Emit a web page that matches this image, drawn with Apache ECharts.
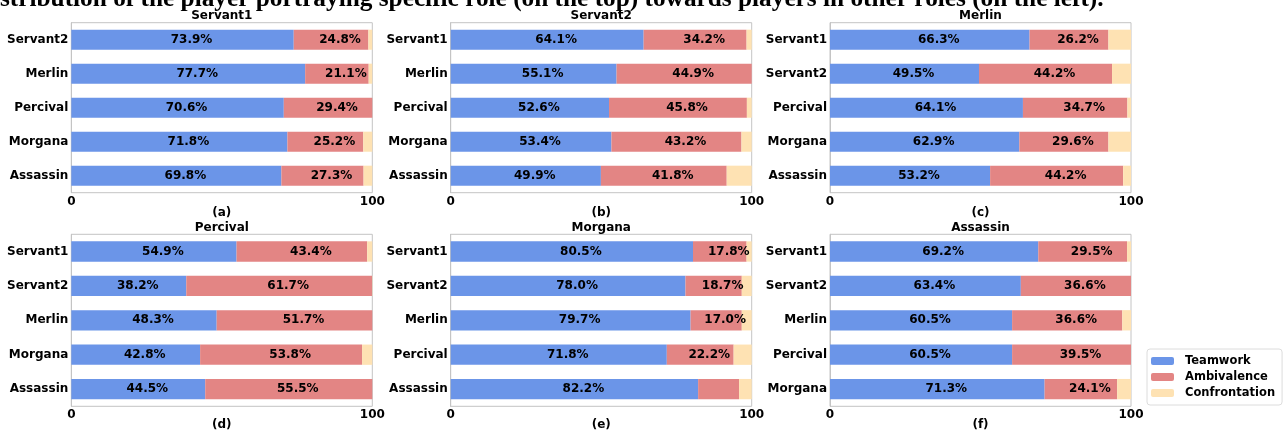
<!DOCTYPE html>
<html>
<head>
<meta charset="utf-8">
<script src="https://cdn.jsdelivr.net/npm/echarts@6/dist/echarts.min.js"></script>
<style>html,body{margin:0;padding:0;background:#fff;}#c{width:1285px;height:434px;}</style>
</head>
<body>
<div id="c"></div>
<script>
const mainTitle = "stribution of the player portraying specific role (on the top) towards players in other roles (on the left).";
const panelTitles = ["Servant1", "Servant2", "Merlin", "Percival", "Morgana", "Assassin"];
const panelTags = ["(a)", "(b)", "(c)", "(d)", "(e)", "(f)"];
const seriesNames = ["Teamwork", "Ambivalence", "Confrontation"];
const xTicks = [0, 100];

const catsA = ["Servant2", "Merlin", "Percival", "Morgana", "Assassin"];
const teamA = [73.9, 77.7, 70.6, 71.8, 69.8];
const ambA  = [24.8, 21.1, 29.4, 25.2, 27.3];
const confA = [1.3, 1.2, 0.0, 3.0, 2.9];

const catsB = ["Servant1", "Merlin", "Percival", "Morgana", "Assassin"];
const teamB = [64.1, 55.1, 52.6, 53.4, 49.9];
const ambB  = [34.2, 44.9, 45.8, 43.2, 41.8];
const confB = [1.7, 0.0, 1.6, 3.4, 8.3];

const catsC = ["Servant1", "Servant2", "Percival", "Morgana", "Assassin"];
const teamC = [66.3, 49.5, 64.1, 62.9, 53.2];
const ambC  = [26.2, 44.2, 34.7, 29.6, 44.2];
const confC = [7.5, 6.3, 1.2, 7.5, 2.6];

const catsD = ["Servant1", "Servant2", "Merlin", "Morgana", "Assassin"];
const teamD = [54.9, 38.2, 48.3, 42.8, 44.5];
const ambD  = [43.4, 61.7, 51.7, 53.8, 55.5];
const confD = [1.7, 0.1, 0.0, 3.4, 0.0];

const catsE = ["Servant1", "Servant2", "Merlin", "Percival", "Assassin"];
const teamE = [80.5, 78.0, 79.7, 71.8, 82.2];
const ambE  = [17.8, 18.7, 17.0, 22.2, 13.6];
const confE = [1.7, 3.3, 3.3, 6.0, 4.2];

const catsF = ["Servant1", "Servant2", "Merlin", "Percival", "Morgana"];
const teamF = [69.2, 63.4, 60.5, 60.5, 71.3];
const ambF  = [29.5, 36.6, 36.6, 39.5, 24.1];
const confF = [1.3, 0.0, 2.9, 0.0, 4.6];

const panels = [
  [catsA, teamA, ambA, confA], [catsB, teamB, ambB, confB], [catsC, teamC, ambC, confC],
  [catsD, teamD, ambD, confD], [catsE, teamE, ambE, confE], [catsF, teamF, ambF, confF]
];
const colors = ["#6b95e8", "#e38584", "#fee2b3"];
const FONT = "DejaVu Sans";

const colLeft = [71.3, 450.7, 830];
const plotW = 301;
const rowTop = [22.7, 234.3];
const rowH = [170, 172];

const grids = [], xAxes = [], yAxes = [], series = [], graphics = [];
panels.forEach((p, i) => {
  const r = Math.floor(i / 3), c = i % 3;
  grids.push({left: colLeft[c], top: rowTop[r], width: plotW, height: rowH[r],
    show: true, borderColor: "#c4c4c4", borderWidth: 1, backgroundColor: "transparent", containLabel: false});
  xAxes.push({type: "value", gridIndex: i, min: xTicks[0], max: xTicks[1], interval: 100,
    axisLine: {show: false}, axisTick: {show: false}, splitLine: {show: false},
    axisLabel: {margin: 3, color: "#000", fontFamily: FONT, fontWeight: "bold", fontSize: 12}});
  yAxes.push({type: "category", gridIndex: i, data: p[0], inverse: true,
    axisLine: {show: true, lineStyle: {color: "#c4c4c4"}}, axisTick: {show: false},
    axisLabel: {margin: 3, color: "#000", fontFamily: FONT, fontWeight: "bold", fontSize: 12}});
  [1, 2, 3].forEach(k => {
    series.push({type: "bar", name: seriesNames[k - 1], xAxisIndex: i, yAxisIndex: i, stack: "s" + i,
      data: p[k], barCategoryGap: "41%", itemStyle: {color: colors[k - 1]},
      label: {show: k < 3, position: "inside", offset: [9, 0], color: "#000", fontFamily: FONT,
        fontWeight: "bold", fontSize: 12,
        formatter: prm => prm.value >= 15 ? prm.value.toFixed(1) + "%" : ""},
      emphasis: {disabled: true}, animation: false});
  });
  const cx = colLeft[c] + plotW / 2;
  graphics.push({type: "text", x: cx, y: r === 0 ? 15.7 : 228,
    style: {text: panelTitles[i], align: "center", verticalAlign: "middle", fill: "#000",
      font: "bold 12px '" + FONT + "'"}});
  graphics.push({type: "text", x: cx, y: r === 0 ? 213.3 : 425,
    style: {text: panelTags[i], align: "center", verticalAlign: "middle", fill: "#000",
      font: "bold 12px '" + FONT + "'"}});
});
graphics.push({type: "text", x: 0, y: -0.5, z: 10,
  style: {text: mainTitle, align: "left", verticalAlign: "middle", fill: "#000",
    font: "bold 25.3px 'Liberation Serif'"}});

const chart = echarts.init(document.getElementById("c"));
chart.setOption({
  animation: false,
  grid: grids, xAxis: xAxes, yAxis: yAxes, series: series,
  legend: {data: seriesNames, orient: "vertical", left: 1147, top: 349, itemWidth: 23, itemHeight: 8,
    itemGap: 4, padding: [6, 7, 6, 4], backgroundColor: "#fff", borderColor: "#dcdcdc", borderWidth: 1, borderRadius: 3,
    textStyle: {fontFamily: FONT, fontWeight: "bold", fontSize: 11.5, color: "#000", padding: [0, 0, 0, 6]}, selectedMode: false},
  graphic: graphics
});
</script>
</body>
</html>
